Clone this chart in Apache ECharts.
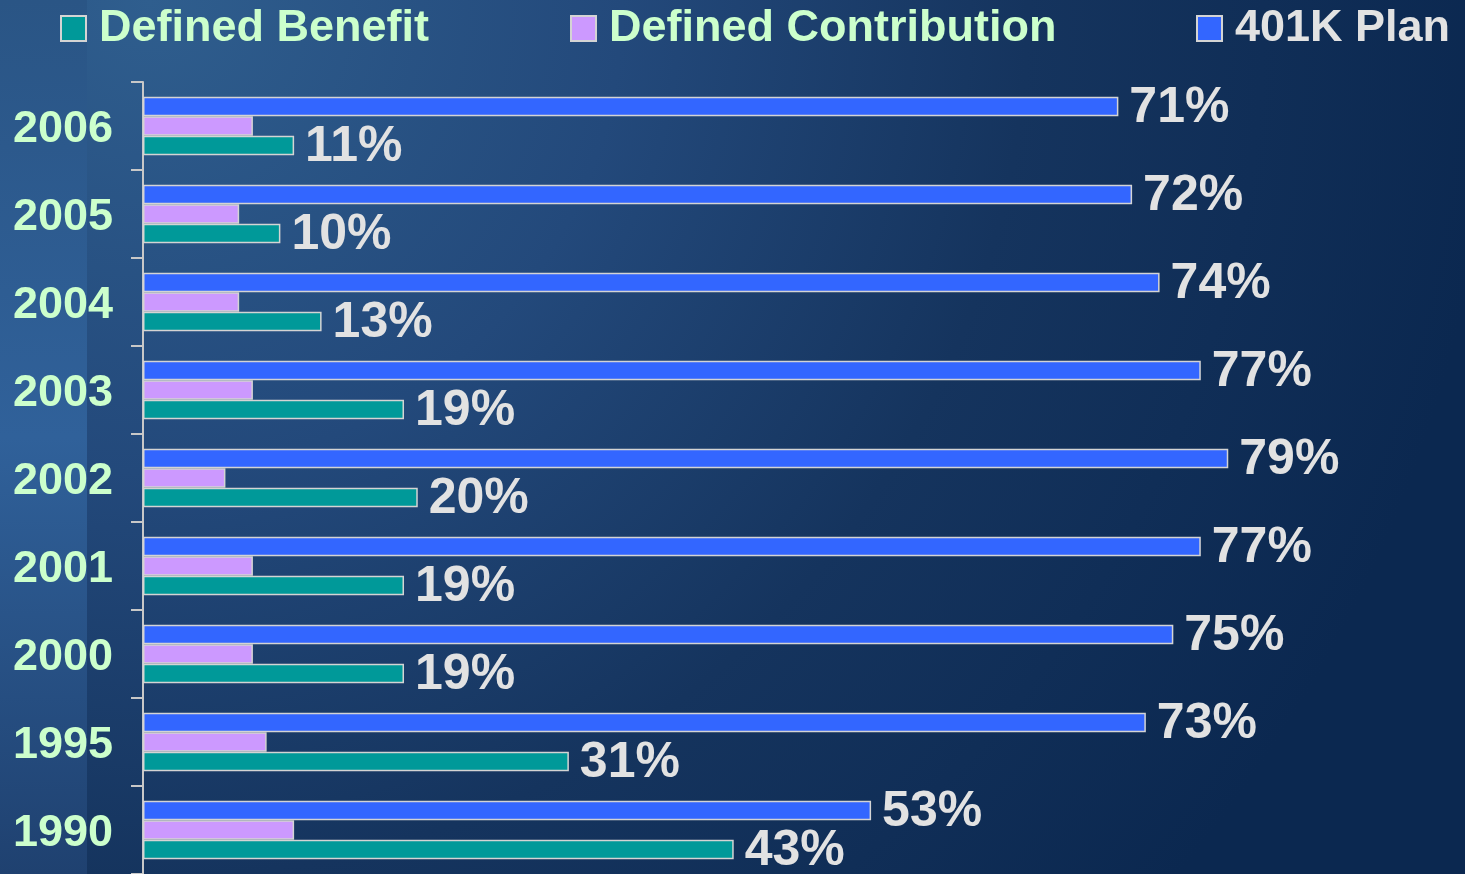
<!DOCTYPE html>
<html>
<head>
<meta charset="utf-8">
<script src="https://cdn.jsdelivr.net/npm/echarts@6/dist/echarts.min.js"></script>
<style>
  html, body { margin: 0; padding: 0; }
  #main { width: 1465px; height: 874px; }
</style>
</head>
<body>
<div id="main"></div>
<script>
var years = ['1990', '1995', '2000', '2001', '2002', '2003', '2004', '2005', '2006'];
var plan401k = [53, 73, 75, 77, 79, 77, 74, 72, 71];
var definedContribution = [11, 9, 8, 8, 6, 8, 7, 7, 8];
var definedBenefit = [43, 31, 19, 19, 20, 19, 13, 10, 11];

var font = "'Liberation Sans', Arial, sans-serif";
var chart = echarts.init(document.getElementById('main'));

// one legend per item so each can sit where it is in the slide
function legendAt(name, left, color) {
  return {
    data: [{ name: name, icon: 'rect' }],
    left: left,
    top: 1,
    itemWidth: 25,
    itemHeight: 25,
    selectedMode: false,
    textStyle: {
      color: color,
      fontSize: 45,
      fontWeight: 'bold',
      fontFamily: font,
      padding: [0, 0, 0, 8]
    }
  };
}

function barSeries(name, data, color, showLabel) {
  return {
    name: name,
    type: 'bar',
    data: data,
    barWidth: 19.5,
    barGap: 0,
    itemStyle: { color: color, borderColor: '#d4d4d4', borderWidth: 1.5 },
    label: {
      show: showLabel,
      position: 'right',
      distance: 11,
      offset: [0, 2],
      formatter: '{c}%',
      color: '#e2e2e2',
      fontSize: 50,
      fontWeight: 'bold',
      fontFamily: font
    },
    emphasis: { disabled: true }
  };
}

var option = {
  animation: false,
  graphic: [
    {
      type: 'rect',
      z: -20,
      shape: { x: 0, y: 0, width: 1465, height: 874 },
      style: {
        fill: new echarts.graphic.RadialGradient(150, 0, 1350, [
          { offset: 0, color: '#2f5e8e' },
          { offset: 0.35, color: '#23497b' },
          { offset: 0.65, color: '#15345e' },
          { offset: 1, color: '#0b2850' }
        ], true)
      }
    },
    {
      type: 'rect',
      z: -19,
      shape: { x: 0, y: 0, width: 87, height: 874 },
      style: {
        fill: new echarts.graphic.LinearGradient(0, 0, 0, 1, [
          { offset: 0, color: '#2a5585' },
          { offset: 0.5, color: '#30619a' },
          { offset: 1, color: '#1f4170' }
        ])
      }
    }
  ],
  legend: [
    legendAt('Defined Benefit', 55, '#ccffcc'),
    legendAt('Defined Contribution', 565, '#ccffcc'),
    legendAt('401K Plan', 1191, '#e2e2e2')
  ],
  grid: { left: 143, top: 82, width: 1099, bottom: 0 },
  xAxis: {
    type: 'value',
    min: 0,
    max: 80,
    show: false
  },
  yAxis: {
    type: 'category',
    data: years,
    axisLine: { show: true, lineStyle: { color: '#c8c8c8', width: 2 } },
    axisTick: { show: true, length: 12, lineStyle: { color: '#c8c8c8', width: 2 } },
    axisLabel: {
      margin: 30,
      formatter: function (v) { return '{y|' + v + '}'; },
      rich: {
        y: {
          color: '#ccffcc',
          fontSize: 45,
          fontWeight: 'bold',
          fontFamily: font,
          padding: [7, 0, 0, 0]
        }
      }
    },
    splitLine: { show: false }
  },
  series: [
    barSeries('401K Plan', plan401k, '#3366ff', true),
    barSeries('Defined Contribution', definedContribution, '#cc99ff', false),
    barSeries('Defined Benefit', definedBenefit, '#009999', true)
  ]
};

chart.setOption(option);
</script>
</body>
</html>
